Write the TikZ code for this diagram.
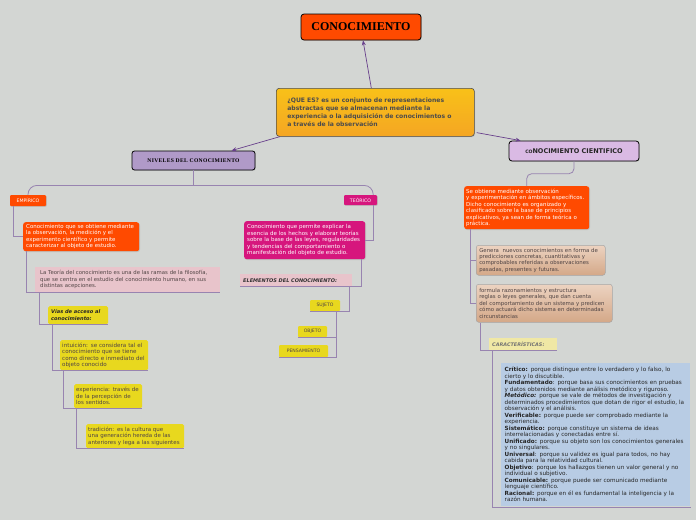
\documentclass[tikz,border=0pt]{standalone}
\usepackage{fontspec}
\setmainfont{DejaVu Sans}
\newfontfamily\serifbold[LetterSpace=6]{Liberation Serif}
\newfontfamily\serifttl{Liberation Serif}
\usetikzlibrary{calc,arrows.meta,shadows}
\newcommand\myfs[2]{\fontsize{#1}{#2}\selectfont}
\definecolor{bg}{RGB}{211,214,211}
\definecolor{ored}{RGB}{255,74,0}
\definecolor{qorange}{RGB}{245,166,35}
\definecolor{lav}{RGB}{176,154,200}
\definecolor{lavlight}{RGB}{218,186,228}
\definecolor{mag}{RGB}{214,22,125}
\definecolor{pinkb}{RGB}{232,196,203}
\definecolor{yel}{RGB}{232,216,30}
\definecolor{paleyel}{RGB}{240,232,165}
\definecolor{tan}{RGB}{228,192,166}
\definecolor{tandark}{RGB}{212,168,136}
\definecolor{lblue}{RGB}{184,204,228}
\definecolor{conn}{RGB}{152,132,176}
\definecolor{arrc}{RGB}{104,64,140}
\definecolor{darktxt}{RGB}{80,68,68}
\begin{document}
\begin{tikzpicture}[x=1pt,y=-1pt,
  box/.style={rounded corners=2.5pt, inner xsep=3pt, inner ysep=1pt, align=left, anchor=north west},
  shd/.style={drop shadow={shadow xshift=0.8pt, shadow yshift=-0.8pt, opacity=0.25}},
  redbox/.style={box, fill=ored, text=white, shd},
  magbox/.style={box, fill=mag, text=white, shd},
  yelbox/.style={box, fill=yel, text=darktxt, rounded corners=1.5pt},
  tanbox/.style={box, top color=tan!70!white, bottom color=tandark, draw=black!35, line width=0.5pt, text=darktxt},
  tag/.style={rounded corners=1pt, inner sep=0pt, align=center},
  cn/.style={draw=conn, line width=0.8pt},
  arr/.style={draw=arrc, line width=0.7pt, -{Stealth[length=5pt,width=4pt]}},
]
\fill[bg] (0,0) rectangle (696,520);
\useasboundingbox (0,0) rectangle (696,520);

% main boxes
\node[draw=black, line width=0.8pt, fill=ored, rounded corners=3pt, minimum width=120pt, minimum height=26pt, inner sep=0pt, shd, font=\serifttl\bfseries\myfs{12}{14}] (title) at (361,27) {CONOCIMIENTO};

\node[box, draw=black!70, line width=0.6pt, top color=qorange!70!yellow, bottom color=qorange, text=black!70, inner xsep=11pt, text width=176pt, minimum height=48pt, rounded corners=3pt, shd, font=\bfseries\myfs{6.1}{8.2}] (que) at (276,88)
{¿QUE ES? es un conjunto de representaciones\\abstractas que se almacenan mediante la\\experiencia o la adquisición de conocimientos o\\a través de la observación};

\node[draw=black, line width=0.8pt, fill=lav, rounded corners=2.5pt, minimum width=123pt, minimum height=19pt, inner sep=0pt, shd, font=\serifbold\bfseries\myfs{5.6}{7}] (niv) at (193.5,160.5) {NIVELES DEL CONOCIMIENTO};

\node[draw=black, line width=0.8pt, fill=lavlight, rounded corners=3pt, minimum width=130pt, minimum height=20pt, inner sep=0pt, shd, text=black!85, font=\bfseries\myfs{6.5}{8}] (cien) at (574,151) {{\myfs{4.6}{6}CO}NOCIMIENTO CIENTIFICO};

% left branch
\node[tag, fill=ored, text=white, minimum width=36pt, minimum height=11pt, shd, font=\myfs{4.7}{5.5}] (emp) at (28,200.5) {EMPÍRICO};
\node[tag, fill=mag, text=white, minimum width=33pt, minimum height=10pt, shd, font=\myfs{4.7}{5.5}] (teo) at (360.5,200) {TEÓRICO};

\node[redbox, text width=110pt, minimum height=29pt, font=\myfs{5.45}{6.5}] (empd) at (23,222)
{Conocimiento que se obtiene mediante\\la observación, la medición y el\\experimento científico y permite\\caracterizar al objeto de estudio.};

\node[box, fill=pinkb, rounded corners=0pt, inner xsep=5pt, text width=175pt, minimum height=25pt, text=darktxt, font=\myfs{5.35}{6.4}] (teoria) at (35,267)
{La Teoría del conocimiento es una de las ramas de la filosofía,\\que se centra en el estudio del conocimiento humano, en sus\\distintas acepciones.};

\node[yelbox, text width=54pt, minimum height=18pt, text=black!85, font=\bfseries\itshape\myfs{5.1}{6.5}] (vias) at (48,306)
{Vías de acceso al\\conocimiento:};

\node[yelbox, inner xsep=2pt, text width=84pt, minimum height=30pt, font=\myfs{5.6}{6.4}] (intu) at (60,340)
{intuición: se considera tal el\\conocimiento que se tiene\\como directo e inmediato del\\objeto conocido};

\node[yelbox, inner xsep=2pt, text width=64pt, minimum height=24pt, font=\myfs{5.5}{6.5}] (expe) at (74,384)
{experiencia: través de\\de la percepción de\\los sentidos.};

\node[yelbox, inner xsep=2pt, text width=94pt, minimum height=24pt, font=\myfs{5.5}{6.5}] (trad) at (86,424)
{tradición: es la cultura que\\una generación hereda de las\\anteriores y lega a las siguientes};

\node[magbox, text width=115pt, minimum height=38pt, font=\myfs{5.5}{6.6}] (teod) at (244,221)
{Conocimiento que permite explicar la\\esencia de los hechos y elaborar teorías\\sobre la base de las leyes, regularidades\\y tendencias del comportamiento o\\manifestación del objeto de estudio.};

\node[box, fill=pinkb, rounded corners=0pt, text width=106pt, minimum height=12pt, text=black!80, font=\bfseries\itshape\myfs{5}{6}] (elem) at (240,274)
{ELEMENTOS DEL CONOCIMIENTO:};

\node[tag, fill=yel, text=darktxt, minimum width=30pt, minimum height=11pt, font=\myfs{4.6}{5.5}] (suj) at (325,305.5) {SUJETO};
\node[tag, fill=yel, text=darktxt, minimum width=29pt, minimum height=11pt, font=\myfs{4.6}{5.5}] (obj) at (312.5,331.5) {OBJETO};
\node[tag, fill=yel, text=darktxt, minimum width=49pt, minimum height=12pt, font=\myfs{4.6}{5.5}] (pens) at (303.5,351) {PENSAMIENTO};

% right branch
\node[redbox, inner xsep=2pt, text width=121pt, minimum height=43pt, font=\myfs{5.5}{6.5}] (ciend) at (464,186)
{Se obtiene mediante observación\\y experimentación en ámbitos específicos.\\Dicho conocimiento es organizado y\\clasificado sobre la base de principios\\explicativos, ya sean de forma teórica o\\práctica.};

\node[tanbox, text width=123pt, minimum height=30pt, font=\myfs{5.4}{6.3}] (gen) at (476,245)
{Genera\ \ nuevos conocimientos en forma de\\predicciones concretas, cuantitativas y\\comprobables referidas a observaciones\\pasadas, presentes y futuras.};

\node[tanbox, text width=130pt, minimum height=38pt, font=\myfs{5.4}{6.5}] (form) at (476,284)
{formula razonamientos y estructura\\reglas o leyes generales, que dan cuenta\\del comportamiento de un sistema y predicen\\cómo actuará dicho sistema en determinadas\\circunstancias};

\node[box, fill=paleyel, rounded corners=0pt, text width=62pt, minimum height=12pt, text=black!55, font=\bfseries\itshape\myfs{4.9}{6}] (car) at (489,338)
{CARACTERÍSTICAS:};

\node[box, fill=lblue, rounded corners=0pt, inner xsep=3.5pt, text width=182pt, minimum height=143pt, text=black!85, font=\myfs{5.7}{6.5}] (crit) at (501,363)
{\textbf{Crítico:} porque distingue entre lo verdadero y lo falso, lo\\
cierto y lo discutible.\\
\textbf{Fundamentado}: porque basa sus conocimientos en pruebas\\
y datos obtenidos mediante análisis metódico y riguroso.\\
\textbf{\textit{Metódico:}} porque se vale de métodos de investigación y\\
determinados procedimientos que dotan de rigor el estudio, la\\
observación y el análisis.\\
\textbf{Verificable:} porque puede ser comprobado mediante la\\
experiencia.\\
\textbf{Sistemático:} porque constituye un sistema de ideas\\
interrelacionadas y conectadas entre sí.\\
\textbf{Unificado:} porque su objeto son los conocimientos generales\\
y no singulares.\\
\textbf{Universal}: porque su validez es igual para todos, no hay\\
cabida para la relatividad cultural.\\
\textbf{Objetivo}: porque los hallazgos tienen un valor general y no\\
individual o subjetivo.\\
\textbf{Comunicable:} porque puede ser comunicado mediante\\
lenguaje científico.\\
\textbf{Racional:} porque en él es fundamental la inteligencia y la\\
razón humana.};

% arrows from central box
\draw[arr] ($(que.north)+(-4,0)$) -- ($(title.south)+(2,0)$);
\draw[arr] ($(que.south west)+(4,0)$) -- ($(niv.north)+(38,0)$);
\draw[arr] ($(que.south east)+(2,-4)$) -- ($(cien.north west)+(12,0)$);

% tree connectors
\coordinate (hub) at ($(niv.south)+(0,15)$);
\draw[cn] (niv.south) -- (hub);
\draw[cn, rounded corners=9pt] (emp.north) |- (hub) -| ($(teo.north east)+(-4,0)$);
\draw[cn] ($(emp.south west)+(4,0)$) |- (empd.west);
\draw[cn] ($(empd.south west)+(3,0)$) |- (teoria.south east);
\draw[cn] ($(teoria.south west)+(4,0)$) |- (vias.south east);
\draw[cn] ($(vias.south west)+(4,0)$) |- (intu.south east);
\draw[cn] ($(intu.south west)+(3,0)$) |- (expe.south east);
\draw[cn] ($(expe.south west)+(2,0)$) |- (trad.south east);
\draw[cn] ($(teo.south east)+(-4,0)$) |- (teod.east);
\draw[cn] ($(teod.south east)+(-4,0)$) |- (elem.south west);
\draw[cn] ($(elem.south east)+(-3,0)$) |- (suj.south west);
\draw[cn] ($(suj.south east)+(-4,0)$) |- (obj.south west);
\draw[cn] ($(suj.south east)+(-4,0)$) |- (pens.south west);
\draw[cn, rounded corners=5pt] (cien.south) |- ($(cien.south)!0.5!(ciend.north)$) -| (ciend.north);
\draw[cn] ($(ciend.south west)+(6,0)$) |- (gen.west);
\draw[cn] ($(ciend.south west)+(6,0)$) |- (form.west);
\draw[cn] ($(form.south west)+(4,0)$) |- (car.south east);
\draw[cn] ($(car.south west)+(3,0)$) |- ($(crit.south east)+(1,1)$);
\end{tikzpicture}
\end{document}
